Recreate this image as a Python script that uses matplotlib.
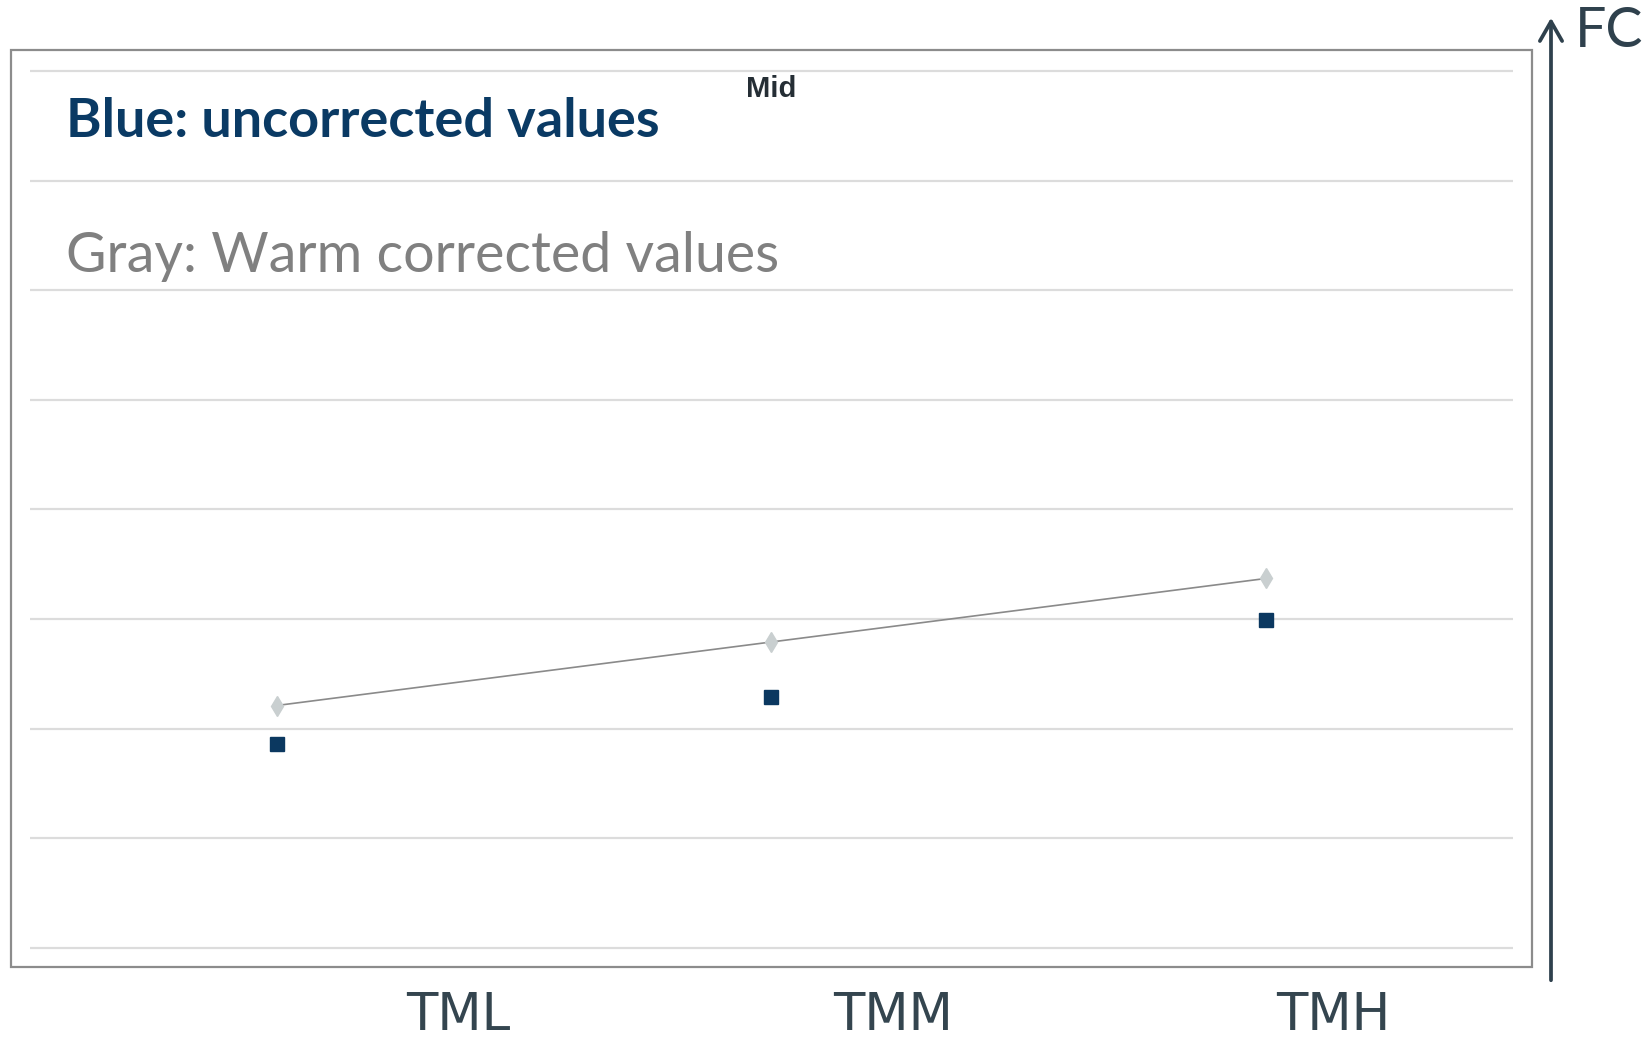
import matplotlib
matplotlib.use("Agg")
import matplotlib.pyplot as plt
import matplotlib.transforms as mtransforms
from matplotlib.patches import Rectangle, FancyArrowPatch

# ---- data ----
categories = ["TML", "TMM", "TMH"]
uncorrected = [1.86, 2.29, 2.99]      # blue squares
warm_corrected = [2.21, 2.79, 3.37]   # gray diamonds + line
grid_values = list(range(0, 9))
annotation_label = "Mid"
axis_label = "FC"
legend_blue = "Blue: uncorrected values"
legend_gray = "Gray: Warm corrected values"

W, H = 1651, 1042
fig = plt.figure(figsize=(W / 100, H / 100), dpi=100)

def fx(px):
    return px / W

def fy(py):
    return 1 - py / H

# axes: gridlines from y=71.5 (8) to y=947.5 (0), x from 29.5 to 1513
unit = (947.5 - 71.5) / 8
pad = 0.1
left, right = 29.5, 1513
top_px = 71.5 - pad * unit
bot_px = 947.5 + pad * unit
ax = fig.add_axes([fx(left), fy(bot_px), fx(right - left), (bot_px - top_px) / H])
ax.set_xlim(-0.5, len(categories) - 0.5)
ax.set_ylim(grid_values[0] - pad, grid_values[-1] + pad)
ax.set_yticks(grid_values)
ax.set_xticks([])
ax.tick_params(axis="y", length=0, labelleft=False)
ax.grid(axis="y", color="#dcdcdc", linewidth=1.6)
ax.set_axisbelow(True)
for s in ax.spines.values():
    s.set_visible(False)
ax.patch.set_alpha(0)

x = list(range(len(categories)))
ax.plot(x, warm_corrected, color="#8a8a8a", linewidth=1.2, zorder=3)
ax.plot(x, warm_corrected, linestyle="none", marker="d", markersize=10,
        markerfacecolor="#c9cfd0", markeredgecolor="#c9cfd0", zorder=4)
ax.plot(x, uncorrected, linestyle="none", marker="s", markersize=9.5,
        markerfacecolor="#0b3860", markeredgecolor="#0b3860", zorder=5)

# outer frame
fig.patches.append(Rectangle((fx(11), fy(967)), fx(1532 - 11), (967 - 50) / H,
                             transform=fig.transFigure, fill=False,
                             edgecolor="#8c8c8c", linewidth=1.6, zorder=0))

# "Mid" label over middle category
blend = mtransforms.blended_transform_factory(ax.transData, fig.transFigure)
ax.text(1, fy(97), annotation_label, transform=blend,
        ha="center", va="baseline", fontsize=21, fontweight="bold",
        color="#252e35", family=["Liberation Sans", "DejaVu Sans"])

# legend texts
fig.text(fx(66), fy(137), legend_blue, fontsize=39, fontweight="bold",
         color="#0a3a64", family=["Lato", "DejaVu Sans"], va="baseline")
fig.text(fx(66), fy(272), legend_gray, fontsize=40,
         color="#808080", family=["Lato", "DejaVu Sans"], va="baseline")

# category labels below the frame
label_centers = [458, 893, 1333]
for lab, cx in zip(categories, label_centers):
    fig.text(fx(cx), fy(1030), lab, ha="center", va="baseline", fontsize=37,
             color="#34454f", family=["Liberation Sans Narrow", "DejaVu Sans"])

# FC axis arrow
arrow = FancyArrowPatch((fx(1551), fy(983)), (fx(1551), fy(15)),
                        transform=fig.transFigure,
                        arrowstyle="->,head_length=0.7,head_width=0.4",
                        color="#2f414d", linewidth=2.7, mutation_scale=20)
fig.patches.append(arrow)
fig.text(fx(1575), fy(47), axis_label, ha="left", va="baseline", fontsize=40,
         color="#2f414d", family=["Lato", "DejaVu Sans"])

fig.savefig("out.png", dpi=100, facecolor="white")
